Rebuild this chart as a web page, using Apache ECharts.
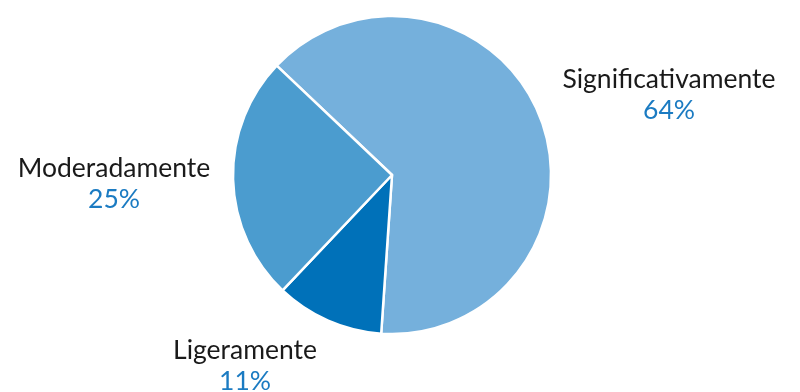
<!DOCTYPE html>
<html>
<head>
<meta charset="utf-8">
<script src="https://cdn.jsdelivr.net/npm/echarts@6/dist/echarts.min.js"></script>
<style>
  html, body { margin: 0; padding: 0; background: #fff; }
  #chart { width: 800px; height: 392px; }
</style>
</head>
<body>
<div id="chart"></div>
<script>
// Categories and shares (%), in clockwise drawing order
const categories = ['Significativamente', 'Ligeramente', 'Moderadamente'];
const shares = [64, 11, 25];
const sliceColors = ['#75b0dc', '#0071b9', '#4b9ccf'];
// Label anchor points (block centres) for each slice
const labelAnchors = [[669, 95], [245, 366], [114, 184]];

const chart = echarts.init(document.getElementById('chart'), null, { renderer: 'canvas' });

chart.setOption({
  animation: false,
  series: [{
    type: 'pie',
    center: [392, 175],
    radius: [0, 159],
    startAngle: 136.5,
    clockwise: true,
    silent: true,
    itemStyle: { borderColor: '#ffffff', borderWidth: 2.5 },
    label: {
      show: true,
      position: 'outside',
      overflow: 'none',
      formatter: p => '{n|' + p.name + '}\n{v|' + p.value + '%}',
      rich: {
        n: { fontFamily: 'Lato', fontSize: 26.5, color: '#1a1a1a', lineHeight: 31, align: 'center' },
        v: { fontFamily: 'Lato', fontSize: 26.5, color: '#1b7bc2', lineHeight: 31, align: 'center' }
      }
    },
    labelLine: { show: false },
    labelLayout: params => ({
      x: labelAnchors[params.dataIndex][0],
      y: labelAnchors[params.dataIndex][1],
      align: 'center',
      verticalAlign: 'middle'
    }),
    data: categories.map((name, i) => ({
      name: name,
      value: shares[i],
      itemStyle: { color: sliceColors[i] }
    }))
  }]
});
</script>
</body>
</html>
